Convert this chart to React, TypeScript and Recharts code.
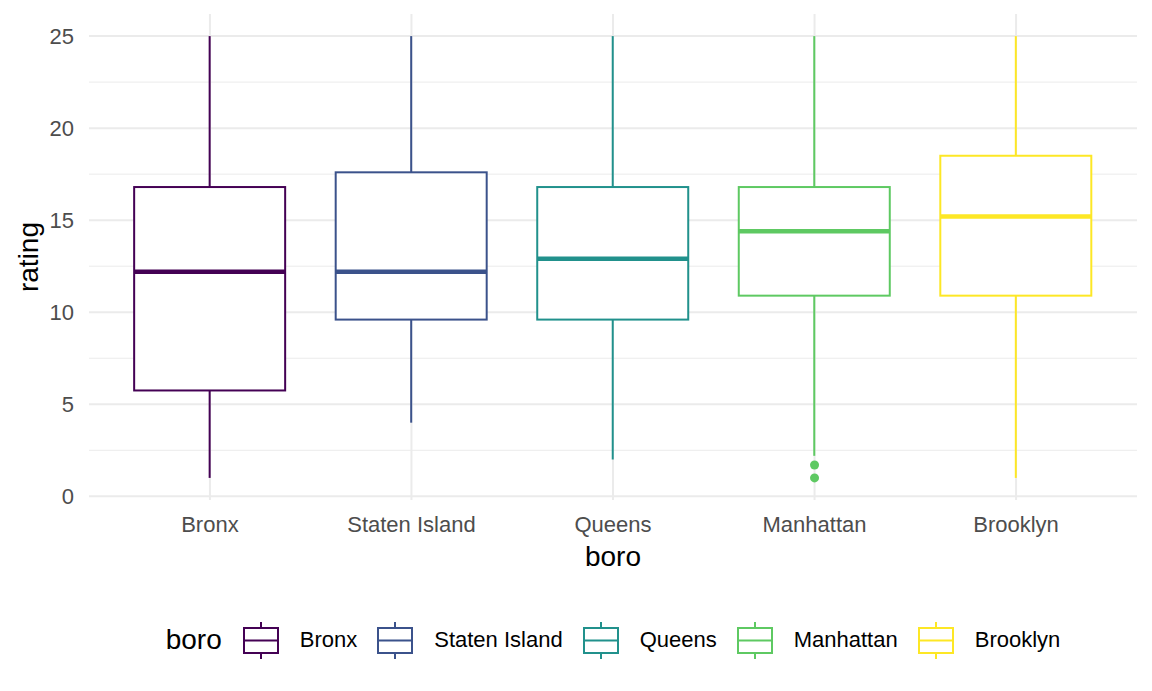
import React from 'react';
import { ComposedChart, XAxis, YAxis, CartesianGrid, Bar, Scatter } from 'recharts';

const boros = ['Bronx', 'Staten Island', 'Queens', 'Manhattan', 'Brooklyn'];
const colors = ['#440154', '#3b528b', '#21918c', '#5ec962', '#fde725'];
const lowerWhisker = [1, 4, 2, 2.2, 1];
const q1 = [5.75, 9.6, 9.6, 10.9, 10.9];
const median = [12.2, 12.2, 12.9, 14.4, 15.2];
const q3 = [16.8, 17.6, 16.8, 16.8, 18.5];
const upperWhisker = [25, 25, 25, 25, 25];
const outliers = [
  { boro: 'Manhattan', rating: 1.7 },
  { boro: 'Manhattan', rating: 1 },
];
const yTicks = [0, 5, 10, 15, 20, 25];
const yMinor = [2.5, 7.5, 12.5, 17.5, 22.5];
const xTicks = [1, 2, 3, 4, 5];

const font = '"Liberation Sans", Arial, sans-serif';

const data = boros.map((b, i) => ({
  pos: i + 1,
  boro: b,
  lo: lowerWhisker[i],
  q1: q1[i],
  med: median[i],
  q3: q3[i],
  hi: upperWhisker[i],
  color: colors[i],
}));

const outlierData = outliers.map((o) => ({
  pos: boros.indexOf(o.boro) + 1,
  rating: o.rating,
  color: colors[boros.indexOf(o.boro)],
}));

// range bar [lo, hi] -> draw whiskers + box, positions interpolated on the linear y scale
const BoxShape = (props: any) => {
  const { x, y, width, height, payload } = props;
  if (!payload) return null;
  const top = Math.min(y, y + height);
  const h = Math.abs(height);
  const py = (v: number) => top + (h * (payload.hi - v)) / (payload.hi - payload.lo);
  const cx = x + width / 2;
  const c = payload.color;
  return (
    <g>
      <line x1={cx} x2={cx} y1={py(payload.hi)} y2={py(payload.q3)} stroke={c} strokeWidth={2} />
      <line x1={cx} x2={cx} y1={py(payload.q1)} y2={py(payload.lo)} stroke={c} strokeWidth={2} />
      <rect
        x={x}
        y={py(payload.q3)}
        width={width}
        height={py(payload.q1) - py(payload.q3)}
        fill="#ffffff"
        stroke={c}
        strokeWidth={2}
      />
      <line x1={x} x2={x + width} y1={py(payload.med)} y2={py(payload.med)} stroke={c} strokeWidth={4.5} />
    </g>
  );
};

const LegendGlyph = ({ color }: { color: string }) => (
  <svg width={36} height={40} style={{ display: 'block' }}>
    <line x1={18} x2={18} y1={2} y2={8} stroke={color} strokeWidth={2} />
    <line x1={18} x2={18} y1={33} y2={39} stroke={color} strokeWidth={2} />
    <rect x={1} y={8} width={34} height={25} fill="#fff" stroke={color} strokeWidth={2} />
    <line x1={1} x2={35} y1={20.5} y2={20.5} stroke={color} strokeWidth={2} />
  </svg>
);

const App = () => {
  return (
    <div style={{ position: 'absolute', left: 0, top: 0, width: 1152, height: 691, background: '#fff', fontFamily: font }}>
      <ComposedChart
        width={1152}
        height={691}
        data={data}
        margin={{ top: 14, right: 15, left: 0, bottom: 0 }}
      >
        <CartesianGrid vertical={false} horizontalValues={yMinor} stroke="#ebebeb" strokeWidth={1} syncWithTicks={false} />
        <CartesianGrid horizontalValues={yTicks} verticalValues={xTicks} stroke="#ebebeb" strokeWidth={2} />
        <XAxis
          type="number"
          dataKey="pos"
          domain={[0.4, 5.6]}
          ticks={xTicks}
          tickFormatter={(v: number) => boros[v - 1]}
          axisLine={false}
          tickLine={false}
          tickSize={14}
          tickMargin={2}
          height={191}
          interval={0}
          tick={{ fill: '#4d4d4d', fontSize: 22, fontFamily: font }}
        />
        <YAxis
          type="number"
          domain={[-0.2, 26.2]}
          ticks={yTicks}
          axisLine={false}
          tickLine={false}
          tickSize={13}
          tickMargin={2}
          width={89}
          tick={{ fill: '#4d4d4d', fontSize: 22, fontFamily: font }}
        />
        <Bar dataKey={(d: any) => [d.lo, d.hi]} barSize={151} shape={BoxShape} isAnimationActive={false} />
        <Scatter
          data={outlierData}
          dataKey="rating"
          isAnimationActive={false}
          shape={(p: any) => <circle cx={p.cx} cy={p.cy} r={4.5} fill={p.payload.color} />}
        />
      </ComposedChart>
      <svg width={1152} height={691} style={{ position: 'absolute', left: 0, top: 0, pointerEvents: 'none' }}>
        <text x={613} y={566} textAnchor="middle" fontSize={28} fill="#000" fontFamily={font}>
          boro
        </text>
        <text x={38} y={257} textAnchor="middle" fontSize={28} fill="#000" fontFamily={font} transform="rotate(-90 38 257)">
          rating
        </text>
      </svg>
      <div
        style={{
          position: 'absolute',
          left: 89,
          width: 1048,
          top: 620,
          height: 40,
          display: 'flex',
          alignItems: 'center',
          justifyContent: 'center',
        }}
      >
        <span style={{ fontSize: 28, color: '#000', marginRight: 21 }}>boro</span>
        {boros.map((b, i) => (
          <div key={b} style={{ display: 'flex', alignItems: 'center', marginRight: i < boros.length - 1 ? 20 : 0 }}>
            <LegendGlyph color={colors[i]} />
            <span style={{ fontSize: 22, color: '#000', marginLeft: 21 }}>{b}</span>
          </div>
        ))}
      </div>
    </div>
  );
};

export default App;
